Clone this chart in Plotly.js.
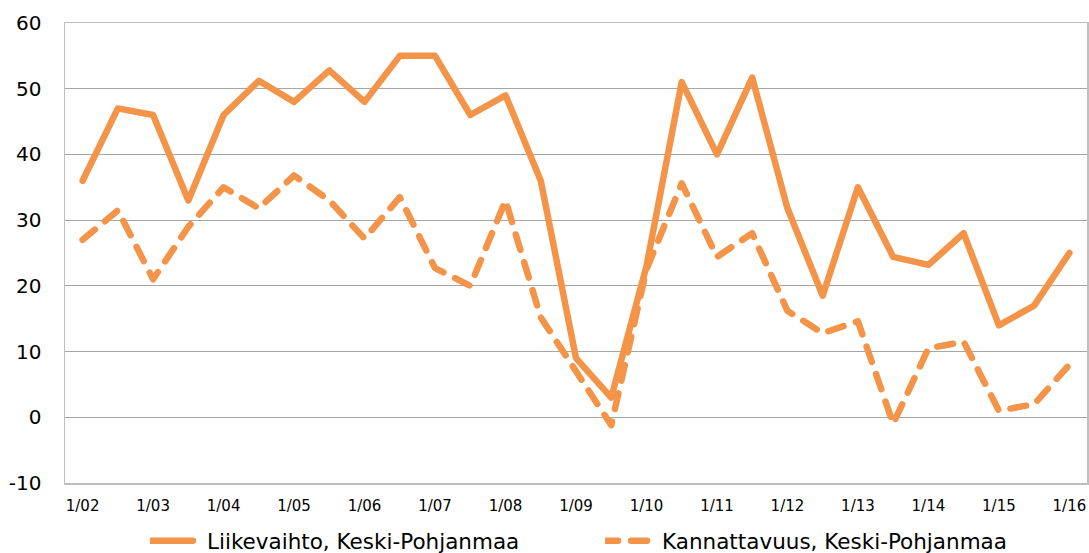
<!DOCTYPE html>
<html>
<head>
<meta charset="utf-8">
<script src="https://cdn.plot.ly/plotly-3.0.1.min.js"></script>
<style>
html,body{margin:0;padding:0;background:#fff;}
#chart{width:1089px;height:553px;}
.scatterlayer path.js-line, .legendlines path{stroke-linecap:round;stroke-linejoin:round;}
</style>
</head>
<body>
<div id="chart"></div>
<script>
// Half-year periods 1/02 ... 1/16 (29 points)
const periods = ["1/02","7/02","1/03","7/03","1/04","7/04","1/05","7/05","1/06","7/06",
  "1/07","7/07","1/08","7/08","1/09","7/09","1/10","7/10","1/11","7/11",
  "1/12","7/12","1/13","7/13","1/14","7/14","1/15","7/15","1/16"];
const tickLabels = ["1/02","1/03","1/04","1/05","1/06","1/07","1/08","1/09","1/10","1/11","1/12","1/13","1/14","1/15","1/16"];
const yTickVals = [-10,0,10,20,30,40,50,60];
const yTickText = ["-10","0","10","20","30","40","50","60"];
const liikevaihto = [36,47,46,33,46,51.2,48,52.8,48,55,55,46,49,36,9,3,23,51,40,51.7,31.8,18.5,35,24.4,23.2,28,14,17,25];
const kannattavuus = [27,31.5,21,29,35,31.8,36.8,33,27.2,33.5,22.7,20,33,15.2,7,-1.2,22.5,35.6,24.4,28,16.2,12.8,14.6,-1,10.5,11.5,1,2,8];
const seriesNames = ["Liikevaihto, Keski-Pohjanmaa","Kannattavuus, Keski-Pohjanmaa"];

const color = "#f39449";
const idx = periods.map((p,i)=>i);
const tickIdx = tickLabels.map(t=>periods.indexOf(t));

const traces = [
  {x: idx, y: liikevaihto, name: seriesNames[0], type:"scatter", mode:"lines",
   line:{color:color, width:6.5}, legend:"legend"},
  {x: idx, y: kannattavuus, name: seriesNames[1], type:"scatter", mode:"lines",
   line:{color:color, width:6.5, dash:"16px,13px"}, legend:"legend2"}
];

const legendFont = {size:21.5, family:"DejaVu Sans, Verdana, sans-serif", color:"#000"};
const layout = {
  width:1089, height:553,
  margin:{l:65, r:2, t:23, b:70, autoexpand:false},
  paper_bgcolor:"#fff", plot_bgcolor:"#fff",
  font:{family:"DejaVu Sans, Verdana, sans-serif", color:"#000"},
  showlegend:true,
  legend:{orientation:"h", x:0.1377, xanchor:"left", xref:"container",
    y:0.022, yanchor:"middle", yref:"container", font:legendFont, itemwidth:47,
    bgcolor:"rgba(0,0,0,0)"},
  legend2:{orientation:"h", x:0.5556, xanchor:"left", xref:"container",
    y:0.022, yanchor:"middle", yref:"container", font:legendFont, itemwidth:47,
    bgcolor:"rgba(0,0,0,0)"},
  xaxis:{range:[-0.5,28.5], tickvals:tickIdx, ticktext:tickLabels, showgrid:false,
    zeroline:false, showline:true, mirror:true, linecolor:"#bfbfbf", linewidth:1.5,
    ticks:"", tickfont:{size:15}, ticklabelstandoff:8, fixedrange:true, automargin:false},
  yaxis:{range:[-10,60], tickvals:yTickVals, ticktext:yTickText, showgrid:true, gridcolor:"#a6a6a6", gridwidth:1,
    zeroline:false, showline:true, mirror:true, linecolor:"#bfbfbf", linewidth:1.5,
    ticks:"", tickfont:{size:20}, ticklabelstandoff:18, fixedrange:true, automargin:false}
};

Plotly.newPlot("chart", traces, layout, {displayModeBar:false, staticPlot:true}).then(gd=>{
  document.querySelectorAll('.legendlines path').forEach(p=>{
    p.setAttribute('d','M-3,0h46');
  });
});
</script>
</body>
</html>
